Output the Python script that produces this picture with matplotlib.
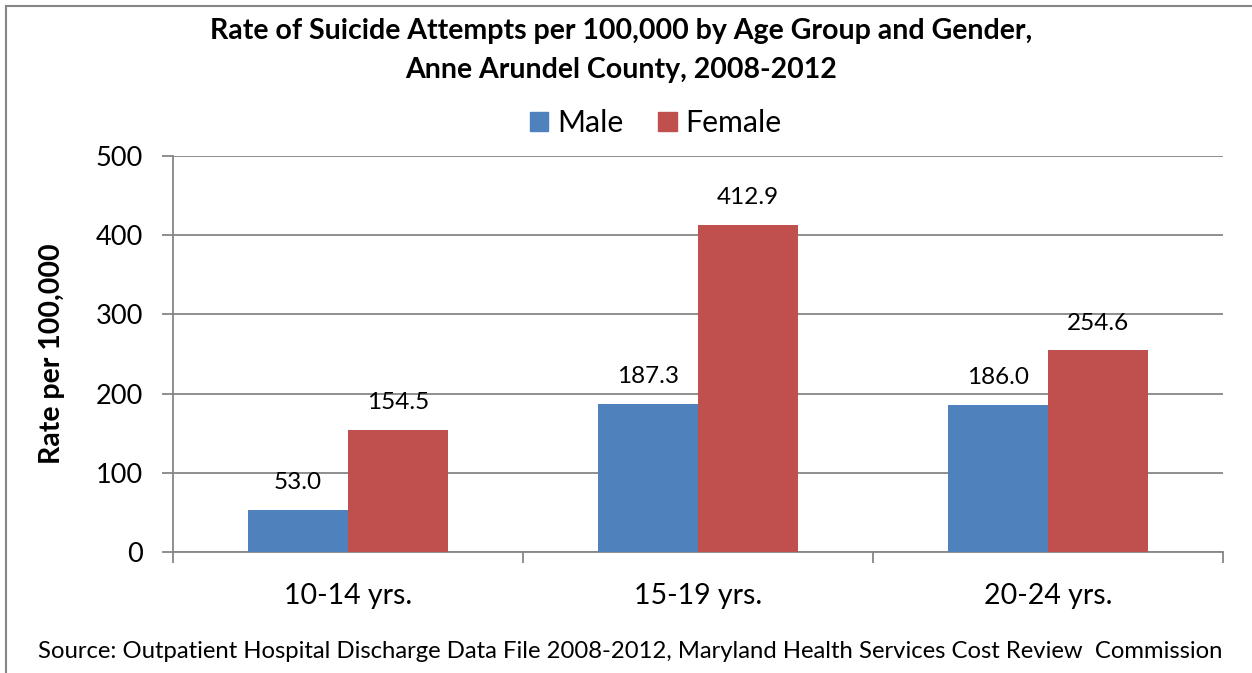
import numpy as np
import matplotlib
matplotlib.use('Agg')
import matplotlib.pyplot as plt
from matplotlib.lines import Line2D
from matplotlib.patches import Patch

plt.rcParams['font.family'] = ['Lato', 'DejaVu Sans']

age_groups = ['10-14 yrs.', '15-19 yrs.', '20-24 yrs.']
male = [53.0, 187.3, 186.0]
female = [154.5, 412.9, 254.6]
series_names = ['Male', 'Female']
yticks = [0, 100, 200, 300, 400, 500]

blue = '#4f81bd'
red = '#c0504d'
grey = '#868686'

W, H = 1252, 673
fig = plt.figure(figsize=(W / 100, H / 100), dpi=100)
ax = fig.add_axes([173 / W, 1 - 552 / H, (1223 - 173) / W, (552 - 156) / H])

x = np.arange(len(age_groups))
bw = 100 / 350
b1 = ax.bar(x - bw / 2, male, bw, color=blue, zorder=3)
b2 = ax.bar(x + bw / 2, female, bw, color=red, zorder=3)

for bars, vals in [(b1, male), (b2, female)]:
    for r, v in zip(bars, vals):
        ax.annotate('%.1f' % v, (r.get_x() + r.get_width() / 2, v),
                    xytext=(0, 19.5), textcoords='offset points',
                    ha='center', va='center', fontsize=17.5)

ax.set_xlim(-0.5, 2.5)
ax.set_ylim(0, 500)
ax.set_yticks(yticks)
ax.set_yticklabels([str(t) for t in yticks], fontsize=19.5)
ax.yaxis.grid(True, color=grey, linewidth=1.3, zorder=0)

# category labels between boundary ticks
ax.set_xticks([-0.5, 0.5, 1.5, 2.5])
ax.set_xticklabels([])
ax.set_xticks(x, minor=True)
ax.set_xticklabels(age_groups, minor=True, fontsize=20.5)
ax.tick_params(axis='x', which='minor', length=0, pad=22)
ax.tick_params(axis='x', which='major', length=8, width=1.3, color=grey)
ax.tick_params(axis='y', length=8, width=1.3, color=grey, pad=13.5)

for s in ['top', 'right']:
    ax.spines[s].set_visible(False)
for s in ['left', 'bottom']:
    ax.spines[s].set_color(grey)
    ax.spines[s].set_linewidth(1.3)

ax.set_ylabel('Rate per 100,000', fontsize=20.5, fontweight='bold', labelpad=22)

title_x = 0.5 * (213 + 1030) / W
fig.text(title_x, 1 - 31 / H,
         'Rate of Suicide Attempts per 100,000 by Age Group and Gender,',
         ha='center', va='center', fontsize=20.5, fontweight='bold')
fig.text(title_x, 1 - 70 / H, 'Anne Arundel County, 2008-2012',
         ha='center', va='center', fontsize=20.5, fontweight='bold')

handles = [Patch(color=blue), Patch(color=red)]
fig.legend(handles, series_names, loc='center', bbox_to_anchor=(656 / W, 1 - 123 / H),
           ncol=2, frameon=False, fontsize=21.8, handlelength=0.6, handleheight=0.6,
           handletextpad=0.3, columnspacing=1.15)

fig.text(630 / W, 1 - 652 / H,
         'Source: Outpatient Hospital Discharge Data File 2008-2012, Maryland Health Services Cost Review  Commission',
         ha='center', va='center', fontsize=17.2)

# chart frame (left and top edges)
fig.add_artist(Line2D([6 / W, 6 / W], [0, 1 - 6 / H], color=grey, linewidth=1.5))
fig.add_artist(Line2D([6 / W, 1], [1 - 6 / H, 1 - 6 / H], color=grey, linewidth=1.5))

fig.savefig('out.png', dpi=100)
